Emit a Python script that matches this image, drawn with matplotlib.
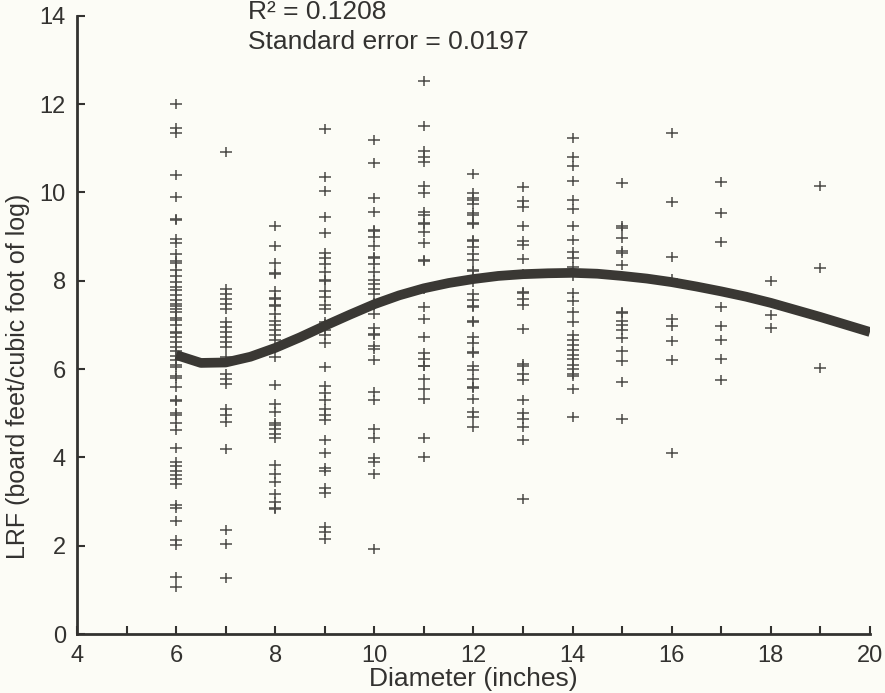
import numpy as np
import matplotlib
matplotlib.use("Agg")
import matplotlib.pyplot as plt
from matplotlib.path import Path

plt.rcParams["font.family"] = ["Liberation Sans", "DejaVu Sans"]

# Observed log recovery factor (LRF) by log diameter class
lrf_by_diameter = {
    6: [12.0, 11.45, 11.35, 10.4, 9.9, 9.4, 9.38, 8.95, 8.85, 8.6, 8.45, 8.4, 8.25,
        8.1, 7.97, 7.85, 7.8, 7.67, 7.57, 7.47, 7.43, 7.35, 7.3, 7.15, 7.12, 7.0,
        6.85, 6.82, 6.72, 6.62, 6.5, 6.4, 6.3, 6.2, 6.1, 6.05, 5.85, 5.8, 5.6,
        5.3, 5.27, 5.0, 4.95, 4.77, 4.62, 4.22, 3.9, 3.8, 3.7, 3.6, 3.5, 3.4,
        2.92, 2.85, 2.55, 2.13, 2.02, 1.3, 1.07],
    7: [10.91, 7.82, 7.71, 7.59, 7.48, 7.37, 7.06, 6.95, 6.84, 6.73, 6.61, 6.5,
        6.27, 5.89, 5.78, 5.67, 5.1, 4.96, 4.8, 4.2, 2.35, 2.05, 1.26],
    8: [9.23, 8.78, 8.41, 8.18, 8.16, 7.78, 7.6, 7.58, 7.45, 7.42, 7.25, 7.1,
        6.99, 6.88, 6.77, 6.65, 6.47, 6.28, 5.63, 5.22, 5.03, 4.77, 4.74, 4.65,
        4.54, 4.43, 3.82, 3.63, 3.45, 3.18, 2.99, 2.85, 2.83],
    9: [11.44, 10.35, 10.03, 9.45, 9.09, 8.63, 8.52, 8.37, 8.2, 8.02, 8.0, 7.77,
        7.63, 7.45, 7.37, 7.07, 7.03, 6.88, 6.77, 6.58, 6.05, 5.62, 5.46, 5.3,
        5.1, 4.97, 4.84, 4.39, 4.09, 3.77, 3.7, 3.3, 3.2, 2.43, 2.32, 2.16],
    10: [11.18, 10.66, 9.88, 9.55, 9.15, 9.12, 8.99, 8.78, 8.55, 8.52, 8.39, 8.2,
         8.01, 7.92, 7.82, 7.71, 7.5, 7.45, 7.24, 6.94, 6.8, 6.78, 6.52, 6.45,
         6.2, 5.48, 5.29, 4.65, 4.43, 3.98, 3.9, 3.63, 1.92],
    11: [12.52, 11.5, 10.94, 10.8, 10.69, 10.14, 9.98, 9.55, 9.48, 9.3, 9.28,
         9.1, 8.85, 8.47, 8.45, 7.82, 7.4, 7.14, 6.72, 6.36, 6.22, 6.08, 6.06,
         5.78, 5.56, 5.33, 4.43, 4.0],
    12: [10.42, 9.98, 9.87, 9.84, 9.75, 9.53, 9.5, 9.3, 9.28, 8.92, 8.9, 8.76,
         8.61, 8.46, 8.25, 8.23, 7.97, 7.71, 7.56, 7.42, 7.4, 7.08, 7.06, 6.72,
         6.6, 6.38, 6.36, 6.08, 5.97, 5.77, 5.6, 5.58, 5.33, 5.03, 4.92, 4.69],
    13: [10.12, 9.8, 9.66, 9.25, 8.91, 8.82, 8.5, 8.16, 7.75, 7.72, 7.58, 7.46,
         6.9, 6.12, 6.08, 5.89, 5.76, 5.3, 5.0, 4.87, 4.69, 4.4, 3.06],
    14: [11.24, 10.81, 10.61, 10.25, 9.84, 9.63, 9.23, 8.92, 8.65, 8.52, 8.31,
         8.1, 7.72, 7.54, 7.3, 7.07, 6.77, 6.66, 6.55, 6.44, 6.33, 6.22, 6.1,
         6.0, 5.88, 5.84, 5.56, 4.92],
    15: [10.21, 9.23, 9.2, 8.97, 8.67, 8.64, 8.35, 7.3, 7.28, 7.1, 7.0, 6.89,
         6.71, 6.41, 6.18, 5.71, 4.86],
    16: [11.34, 9.78, 8.55, 8.05, 7.14, 6.97, 6.63, 6.2, 4.1],
    17: [10.23, 9.53, 8.88, 7.41, 6.98, 6.67, 6.22, 5.75],
    18: [7.99, 7.23, 6.93],
    19: [10.14, 8.28, 6.03],
}

# Fitted regression curve of LRF on diameter
fit_diameter = [6.0, 6.5, 7.0, 7.5, 8.0, 8.5, 9.0, 9.5, 10.0, 10.5, 11.0, 11.5,
                12.0, 12.5, 13.0, 13.5, 14.0, 14.5, 15.0, 15.5, 16.0, 16.5,
                17.0, 17.5, 18.0, 18.5, 19.0, 19.5, 20.0]
fit_lrf = [6.32, 6.14, 6.15, 6.28, 6.48, 6.72, 6.98, 7.23, 7.47, 7.67, 7.83,
           7.95, 8.04, 8.11, 8.15, 8.17, 8.18, 8.16, 8.11, 8.05, 7.97, 7.87,
           7.76, 7.64, 7.50, 7.34, 7.18, 7.01, 6.84]

x_ticks = [4, 6, 8, 10, 12, 14, 16, 18, 20]
y_ticks = [0, 2, 4, 6, 8, 10, 12, 14]
r2_text = "R\u00b2 = 0.1208"
se_text = "Standard error = 0.0197"

bg = "#fcfcf6"
ink = "#333230"
mark_col = "#4b4a47"

# plus sign with a slightly wider horizontal bar
plus = Path([(-1.0, 0), (1.0, 0), (0, -0.8), (0, 0.8)],
            [Path.MOVETO, Path.LINETO, Path.MOVETO, Path.LINETO])

fig = plt.figure(figsize=(8.85, 6.93), dpi=100, facecolor=bg)
ax = fig.add_axes([0.087, 0.0851, 0.896, 0.892])
ax.set_facecolor(bg)

xs, ys = [], []
for d, vals in lrf_by_diameter.items():
    xs.extend([d] * len(vals))
    ys.extend(vals)
ax.plot(xs, ys, linestyle="none", marker=plus, markersize=8.5,
        markeredgewidth=1.1, color=mark_col, zorder=2)

ax.plot(fit_diameter, fit_lrf, color="#3a3834", linewidth=7.0,
        solid_capstyle="butt", solid_joinstyle="round", zorder=3)

ax.set_xlim(4, 20)
ax.set_ylim(0, 14)
ax.set_xticks(x_ticks)
ax.set_xticks(range(5, 20, 2), minor=True)
ax.set_yticks(y_ticks)

for side in ("top", "right"):
    ax.spines[side].set_visible(False)
for side in ("left", "bottom"):
    ax.spines[side].set_linewidth(2.0)
    ax.spines[side].set_color(ink)

ax.tick_params(axis="both", which="both", direction="in", length=6,
               width=1.5, color=ink, labelcolor=ink, labelsize=17)
ax.tick_params(axis="x", pad=8)
ax.tick_params(axis="y", pad=8)

ax.set_xlabel("Diameter (inches)", fontsize=19, color=ink, labelpad=0)
ax.set_ylabel("LRF (board feet/cubic foot of log)", fontsize=18, color=ink)
ax.yaxis.set_label_coords(-0.059, 0.416)

fig.text(0.280, 0.972, r2_text, fontsize=19, color=ink, va="baseline")
fig.text(0.280, 0.930, se_text, fontsize=19, color=ink, va="baseline")

fig.savefig("out.png", dpi=100, facecolor=bg)
